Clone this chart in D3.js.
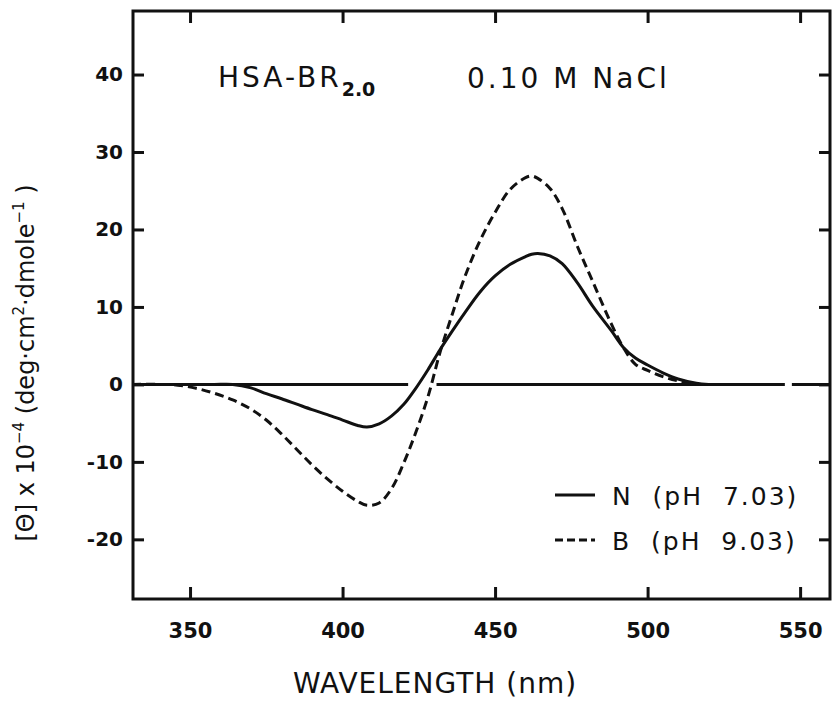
<!DOCTYPE html>
<html>
<head>
<meta charset="utf-8">
<script src="https://cdn.jsdelivr.net/npm/d3@7"></script>
<style>
  body { margin: 0; background: #fff; }
  svg text { font-family: "DejaVu Sans", sans-serif; fill: #111; }
</style>
</head>
<body>
<div id="canvas"></div>
<script>
"use strict"

/* Data */
let wavelength = [331, 340, 346, 352, 358, 364, 370, 375, 380, 385, 390, 395, 400, 405, 408, 412,
    416, 420, 424, 428, 432, 436, 440, 445, 450, 455, 460, 462, 464, 468, 472, 477, 482, 488,
    492, 496, 500, 505, 510, 516, 520];
let thetaN = [0, 0, 0, 0, 0, 0, -0.45, -1.2, -1.85, -2.55, -3.25, -3.9, -4.6, -5.3, -5.5, -5.1,
    -4.1, -2.6, -0.5, 1.9, 4.5, 6.9, 9.2, 11.9, 14.0, 15.5, 16.5, 16.8, 16.9, 16.6, 15.6, 13.1, 10.1, 7.0,
    4.8, 3.4, 2.5, 1.5, 0.7, 0.15, 0];
let thetaB = [0, 0, -0.1, -0.5, -1.15, -2.0, -3.2, -4.6, -6.4, -8.4, -10.4, -12.2, -13.8, -15.1, -15.6, -15.3,
    -13.5, -10.2, -6.2, -1.6, 4.2, 9.1, 13.8, 18.5, 22.2, 25.2, 26.7, 26.9, 26.6, 25.3, 22.7, 17.8, 13.3, 7.9,
    4.8, 2.6, 1.8, 1.0, 0.45, 0, 0];

// zero line is drawn in pieces (gaps where the curves cross it)
let zeroSegments = [[335.8, 421.5], [430.8, 545], [547.3, 559.8]];

let xTicks = [350, 400, 450, 500, 550];
let yTicks = [-20, -10, 0, 10, 20, 30, 40];
let seriesNames = ["N  (pH  7.03)", "B  (pH  9.03)"];

/* Drawing dimensions */
let svgWidth = 833;
let svgHeight = 708;
let plotLeft = 133, plotRight = 830, plotTop = 11, plotBottom = 599;

let svg = d3.select("#canvas")
    .append("svg")
    .attr("width", svgWidth)
    .attr("height", svgHeight);

let xScale = d3.scaleLinear()
    .domain([331.3, 559.8])
    .range([plotLeft, plotRight]);

let yScale = d3.scaleLinear()
    .domain([-27.7, 48.2])
    .range([plotBottom, plotTop]);

/* Axes - ticks point inward */
function styleAxis(g) {
    g.select(".domain").remove();
    g.selectAll(".tick line").attr("stroke", "#111").attr("stroke-width", 3);
}

svg.append("g")
    .attr("transform", "translate(" + plotLeft + ",0)")
    .call(d3.axisLeft(yScale).tickValues(yTicks).tickSize(-11).tickPadding(10))
    .call(styleAxis)
    .selectAll("text")
    .style("font-size", "20px")
    .style("font-weight", "bold")
    .text(function (d) { return d < 0 ? "-" + Math.abs(d) : d; });

svg.append("g")
    .attr("transform", "translate(" + plotRight + ",0)")
    .call(d3.axisRight(yScale).tickValues(yTicks).tickSize(-11).tickFormat(""))
    .call(styleAxis);

svg.append("g")
    .attr("transform", "translate(0," + plotBottom + ")")
    .call(d3.axisBottom(xScale).tickValues(xTicks).tickSize(-12).tickPadding(24))
    .call(styleAxis)
    .selectAll("text")
    .style("font-size", "21px")
    .style("font-weight", "bold");

svg.append("g")
    .attr("transform", "translate(0," + plotTop + ")")
    .call(d3.axisTop(xScale).tickValues(xTicks).tickSize(-12).tickFormat(""))
    .call(styleAxis);

/* Frame */
svg.append("rect")
    .attr("x", plotLeft)
    .attr("y", plotTop)
    .attr("width", plotRight - plotLeft)
    .attr("height", plotBottom - plotTop)
    .attr("fill", "none")
    .attr("stroke", "#111")
    .attr("stroke-width", 3);

/* Zero line */
svg.selectAll(".zero")
    .data(zeroSegments)
    .join("line")
    .attr("class", "zero")
    .attr("x1", function (d) { return xScale(d[0]); })
    .attr("x2", function (d) { return xScale(d[1]); })
    .attr("y1", yScale(0))
    .attr("y2", yScale(0))
    .attr("stroke", "#111")
    .attr("stroke-width", 3);

/* Curves */
let line = d3.line()
    .x(function (d) { return xScale(d[0]); })
    .y(function (d) { return yScale(d[1]); })
    .curve(d3.curveCatmullRom.alpha(0.5));

svg.append("path")
    .datum(d3.zip(wavelength, thetaN))
    .attr("d", line)
    .attr("fill", "none")
    .attr("stroke", "#111")
    .attr("stroke-width", 3);

svg.append("path")
    .datum(d3.zip(wavelength, thetaB))
    .attr("d", line)
    .attr("fill", "none")
    .attr("stroke", "#111")
    .attr("stroke-width", 3)
    .attr("stroke-dasharray", "9,5");

/* Legend */
let legend = svg.append("g");
seriesNames.forEach(function (name, i) {
    let y = 495 + i * 45;
    legend.append("line")
        .attr("x1", 555).attr("x2", 595)
        .attr("y1", y).attr("y2", y)
        .attr("stroke", "#111")
        .attr("stroke-width", 3)
        .attr("stroke-dasharray", i === 1 ? "8,4" : null);
    legend.append("text")
        .attr("x", 612)
        .attr("y", y + 10)
        .style("font-size", "25px")
        .style("letter-spacing", "2px")
        .style("white-space", "pre")
        .text(name);
});

/* Annotations */
let title = svg.append("text")
    .attr("x", 218)
    .attr("y", 87)
    .style("font-size", "28px")
    .style("letter-spacing", "3px");
title.append("tspan").text("HSA-BR");
title.append("tspan")
    .attr("dy", 9)
    .style("font-size", "19px")
    .style("font-weight", "bold")
    .style("letter-spacing", "0px")
    .text("2.0");

svg.append("text")
    .attr("x", 467)
    .attr("y", 88)
    .style("font-size", "28px")
    .style("letter-spacing", "3px")
    .text("0.10 M NaCl");

// X axis label
svg.append("text")
    .attr("x", 435)
    .attr("y", 693)
    .attr("text-anchor", "middle")
    .style("font-size", "28px")
    .style("letter-spacing", "1px")
    .text("WAVELENGTH (nm)");

// Y axis label
let yLabel = svg.append("text")
    .attr("transform", "translate(34,363) rotate(-90)")
    .attr("text-anchor", "middle")
    .style("font-size", "24px");
yLabel.append("tspan").text("[Θ] x 10");
yLabel.append("tspan").attr("dy", -10).style("font-size", "15px").text("−4");
yLabel.append("tspan").attr("dy", 10).text(" (deg·cm");
yLabel.append("tspan").attr("dy", -10).style("font-size", "15px").text("2");
yLabel.append("tspan").attr("dy", 10).text("·dmole");
yLabel.append("tspan").attr("dy", -10).style("font-size", "15px").text("−1");
yLabel.append("tspan").attr("dy", 10).text(" )");
</script>
</body>
</html>
